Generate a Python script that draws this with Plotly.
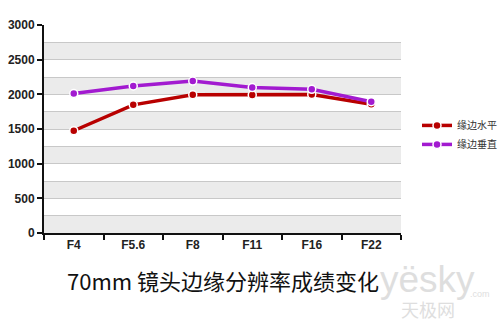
import plotly.graph_objects as go

categories = ["F4", "F5.6", "F8", "F11", "F16", "F22"]
horizontal = [1475, 1848, 1995, 1992, 1998, 1856]
vertical = [2012, 2120, 2192, 2097, 2072, 1894]
series_names = ["缘边水平", "缘边垂直"]
title_text = "70mm 镜头边缘分辨率成绩变化"

fig = go.Figure()
fig.add_trace(go.Scatter(x=categories, y=horizontal, name=series_names[0], mode="lines+markers",
                         line=dict(color="#b80000", width=3.5),
                         marker=dict(size=8, color="#b80000", line=dict(color="white", width=1.5))))
fig.add_trace(go.Scatter(x=categories, y=vertical, name=series_names[1], mode="lines+markers",
                         line=dict(color="#a21ad0", width=3.5),
                         marker=dict(size=8, color="#a21ad0", line=dict(color="white", width=1.5))))

shapes = []
for lo in range(0, 3000, 500):
    shapes.append(dict(type="rect", xref="paper", yref="y", x0=0, x1=1, y0=lo, y1=lo + 250,
                       fillcolor="#ebebeb", line=dict(width=0), layer="below"))
fig.update_layout(shapes=shapes)

fig.update_layout(
    width=500, height=322,
    margin=dict(l=44, r=99, t=25, b=89, autoexpand=False),
    plot_bgcolor="white", paper_bgcolor="white",
    font=dict(family="Liberation Sans, Arial", size=11, color="#111"),
    showlegend=True,
    legend=dict(xref="container", yref="container", x=0.834, y=0.581,
                xanchor="left", yanchor="middle",
                font=dict(family="Noto Sans CJK SC", size=10, color="#333"),
                bgcolor="rgba(0,0,0,0)", tracegroupgap=0, itemwidth=30),
    xaxis=dict(type="category", tickson="boundaries", showline=True, linecolor="#111", linewidth=2,
               ticks="outside", ticklen=5, tickwidth=2, tickcolor="#111", showgrid=False,
               tickfont=dict(family="Liberation Sans", size=12, weight="bold", color="#222"),
               range=[-0.5, 5.5]),
    yaxis=dict(range=[0, 3000], dtick=500, showline=True, linecolor="#111", linewidth=2,
               ticks="outside", ticklen=5, tickwidth=2, tickcolor="#111",
               showgrid=True, gridcolor="#c8c8c8", gridwidth=1, zeroline=False,
               minor=dict(dtick=250, showgrid=True, gridcolor="#c8c8c8", gridwidth=1),
               tickfont=dict(family="Liberation Sans", size=12, weight="bold", color="#222")),
)

fig.add_annotation(text="yësky", xref="paper", yref="paper", x=1.075, y=-0.225,
                   xanchor="center", yanchor="middle", showarrow=False,
                   font=dict(family="Liberation Sans", size=37, color="#dedede"))
fig.add_annotation(text=".com", xref="paper", yref="paper", x=1.222, y=-0.295,
                   xanchor="center", yanchor="middle", showarrow=False,
                   font=dict(family="Liberation Sans", size=9, color="#dedede"))
fig.add_annotation(text="天极网", xref="paper", yref="paper", x=1.076, y=-0.365,
                   xanchor="center", yanchor="middle", showarrow=False,
                   font=dict(family="Noto Sans CJK SC", size=18, color="#dedede"))
fig.add_annotation(text=title_text, xref="paper", yref="paper", x=0.501, y=-0.226,
                   xanchor="center", yanchor="middle", showarrow=False,
                   font=dict(family="Noto Sans CJK SC", size=22, color="#111"))

fig.write_html("out.html")
